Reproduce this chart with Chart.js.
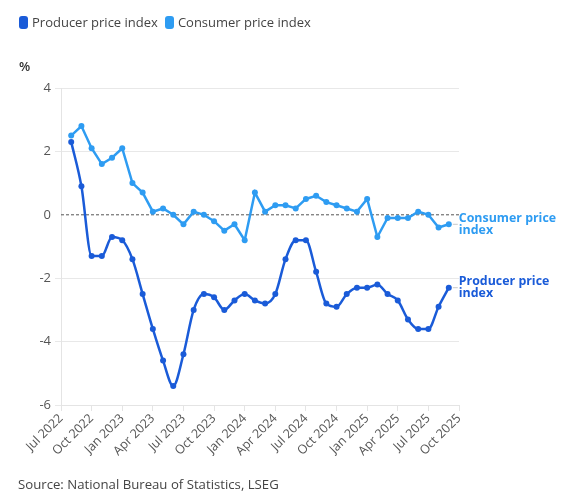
<!DOCTYPE html>
<html>
<head>
<meta charset="utf-8">
<script src="https://cdn.jsdelivr.net/npm/chart.js@4.4.1/dist/chart.umd.min.js"></script>
<style>
  html, body { margin: 0; padding: 0; background: #fff; }
  body { width: 571px; height: 501px; position: relative; overflow: hidden; font-family: "Open Sans", "Noto Sans", sans-serif; }
  #wrap { position: absolute; left: 0; top: 0; width: 571px; height: 501px; }
  .legend { position: absolute; left: 19px; top: 13px; font-size: 13px; color: #444; display: flex; align-items: center; }
  .legend .sw { display: inline-block; width: 9px; height: 13px; border-radius: 3px; margin-right: 4px; }
  .legend .item { display: flex; align-items: center; margin-right: 7px; }
  .unit { position: absolute; left: 19px; top: 57px; font-size: 13px; font-weight: 600; color: #333; }
  .source { position: absolute; left: 18px; top: 475px; font-size: 13.2px; color: #444; }
</style>
</head>
<body>
<div id="wrap"><canvas id="myChart" width="571" height="501"></canvas></div>
<div class="legend">
  <span class="item"><span class="sw" style="background:#1a5bd8"></span>Producer price index</span>
  <span class="item"><span class="sw" style="background:#2e9cf2"></span>Consumer price index</span>
</div>
<div class="unit">%</div>
<div class="source">Source: National Bureau of Statistics, LSEG</div>
<script>
// month labels, Jul 2022 = 0
var tickLabels = ['Jul 2022', 'Oct 2022', 'Jan 2023', 'Apr 2023', 'Jul 2023', 'Oct 2023', 'Jan 2024',
                  'Apr 2024', 'Jul 2024', 'Oct 2024', 'Jan 2025', 'Apr 2025', 'Jul 2025', 'Oct 2025'];

// first value is Aug 2022 (month 1), last is Sep 2025
var firstMonth = 1;

var ppi = [2.3, 0.9, -1.3, -1.3, -0.7, -0.8, -1.4, -2.5, -3.6, -4.6, -5.4, -4.4, -3.0, -2.5, -2.6,
           -3.0, -2.7, -2.5, -2.7, -2.8, -2.5, -1.4, -0.8, -0.8, -1.8, -2.8, -2.9, -2.5, -2.3, -2.3,
           -2.2, -2.5, -2.7, -3.3, -3.6, -3.6, -2.9, -2.3];

var cpi = [2.5, 2.8, 2.1, 1.6, 1.8, 2.1, 1.0, 0.7, 0.1, 0.2, 0.0, -0.3, 0.1, 0.0, -0.2,
           -0.5, -0.3, -0.8, 0.7, 0.1, 0.3, 0.3, 0.2, 0.5, 0.6, 0.4, 0.3, 0.2, 0.1, 0.5,
           -0.7, -0.1, -0.1, -0.1, 0.1, 0.0, -0.4, -0.3];

var endLabels = [['Producer price', 'index'], ['Consumer price', 'index']];

function toPoints(values) {
  return values.map(function (v, i) { return { x: firstMonth + i, y: v }; });
}

var ppiColor = '#1a5bd8';
var cpiColor = '#2e9cf2';

// dashed zero line + labels at the end of each line
var extras = {
  id: 'extras',
  beforeDatasetsDraw: function (chart) {
    var c = chart.ctx, area = chart.chartArea, y0 = chart.scales.y.getPixelForValue(0);
    c.save();
    c.strokeStyle = '#555';
    c.lineWidth = 1;
    c.setLineDash([3, 2]);
    c.beginPath();
    c.moveTo(area.left, y0);
    c.lineTo(area.right + 1, y0);
    c.stroke();
    c.restore();
  },
  afterDatasetsDraw: function (chart) {
    var c = chart.ctx;
    c.save();
    chart.data.datasets.forEach(function (ds, i) {
      var meta = chart.getDatasetMeta(i);
      var last = meta.data[meta.data.length - 1];
      c.strokeStyle = '#c8c8c8';
      c.lineWidth = 1;
      c.beginPath();
      c.moveTo(last.x + 4, last.y);
      c.lineTo(last.x + 9, last.y);
      c.stroke();
      c.fillStyle = ds.borderColor;
      c.font = 'bold 12.4px "Open Sans", sans-serif';
      c.textBaseline = 'middle';
      c.textAlign = 'left';
      var lines = endLabels[i];
      c.fillText(lines[0], last.x + 10, last.y - 6);
      c.fillText(lines[1], last.x + 10, last.y + 6);
    });
    c.restore();
  }
};

var ctx = document.getElementById('myChart').getContext('2d');
var chart = new Chart(ctx, {
  type: 'line',
  data: {
    datasets: [{
      label: 'Producer price index',
      data: toPoints(ppi),
      borderColor: ppiColor,
      backgroundColor: ppiColor,
      borderWidth: 2.5,
      pointRadius: 3,
      pointBorderWidth: 0,
      cubicInterpolationMode: 'monotone'
    }, {
      label: 'Consumer price index',
      data: toPoints(cpi),
      borderColor: cpiColor,
      backgroundColor: cpiColor,
      borderWidth: 2.5,
      pointRadius: 3,
      pointBorderWidth: 0,
      tension: 0
    }]
  },
  options: {
    responsive: false,
    animation: false,
    layout: { padding: { left: 0, right: 112, top: 88, bottom: 45 } },
    plugins: { legend: { display: false }, tooltip: { enabled: false } },
    scales: {
      x: {
        type: 'linear',
        min: 0,
        max: 39,
        afterFit: function (scale) { scale.height = 51; },
        afterBuildTicks: function (scale) {
          scale.ticks = tickLabels.map(function (t, i) { return { value: i * 3 }; });
        },
        ticks: {
          autoSkip: false,
          maxRotation: 45,
          minRotation: 45,
          color: '#555',
          font: { family: '"Open Sans", sans-serif', size: 12.5 },
          padding: 0,
          callback: function (v) { return tickLabels[v / 3]; }
        },
        grid: { display: true, drawOnChartArea: false, color: '#e4e4e4', tickLength: 6 },
        border: { color: '#e4e4e4' }
      },
      y: {
        min: -6,
        max: 4,
        afterFit: function (scale) { scale.width = 61; },
        ticks: {
          stepSize: 2,
          color: '#555',
          font: { family: '"Open Sans", sans-serif', size: 13 },
          padding: 4
        },
        grid: { color: function (c) { return c.tick && c.tick.value === 0 ? 'rgba(0,0,0,0)' : '#e8e8e8'; }, tickLength: 6 },
        border: { color: '#e4e4e4' }
      }
    }
  },
  plugins: [extras]
});
</script>
</body>
</html>
